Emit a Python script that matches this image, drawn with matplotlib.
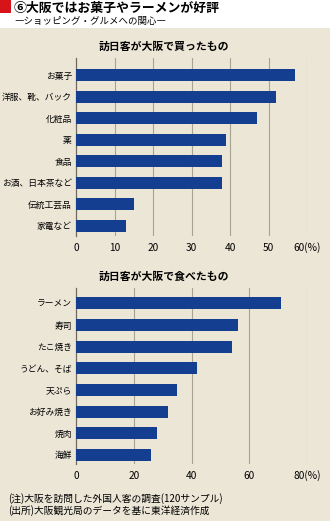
import matplotlib.pyplot as plt
from matplotlib.patches import Rectangle

plt.rcParams['font.family'] = ['Noto Sans CJK JP', 'DejaVu Sans']

# 訪日客が大阪で買ったもの
buy_items = ['お菓子', '洋服、靴、バック', '化粧品', '薬', '食品', 'お酒、日本茶など', '伝統工芸品', '家電など']
buy_vals = [57, 52, 47, 39, 38, 38, 15, 13]
buy_ticks = [0, 10, 20, 30, 40, 50, 60]

# 訪日客が大阪で食べたもの
eat_items = ['ラーメン', '寿司', 'たこ焼き', 'うどん、そば', '天ぷら', 'お好み焼き', '焼肉', '海鮮']
eat_vals = [71, 56, 54, 42, 35, 32, 28, 26]
eat_ticks = [0, 20, 40, 60, 80]

bar_col = '#143f90'
bg_col = '#ece6d7'
grid_col = '#a8a294'

W, H = 330, 521
fig = plt.figure(figsize=(3.3, 5.21), dpi=100)
fig.patch.set_facecolor('white')

# beige panel + red mark
fig.patches.append(Rectangle((0, 0), 1, 1 - 28 / H, transform=fig.transFigure,
                             facecolor=bg_col, edgecolor='none', zorder=-5))
fig.patches.append(Rectangle((0, 1 - 13 / H), 11 / W, 13 / H, transform=fig.transFigure,
                             facecolor='#d7141a', edgecolor='none', zorder=-5))

fig.text(14 / W, 1 - 8 / H, '⑥大阪ではお菓子やラーメンが好評', fontsize=9.3,
         fontweight='bold', va='center', ha='left')
fig.text(14 / W, 1 - 21 / H, '―ショッピング・グルメへの関心―', fontsize=6.8,
         va='center', ha='left')


def draw(ax, items, vals, ticks, xmax, top_pad, bot_pad, title, title_y):
    y = list(range(len(items)))
    ax.barh(y, vals, height=0.56, color=bar_col, zorder=3)
    ax.set_xlim(0, xmax)
    ax.set_ylim(len(items) - 1 + bot_pad, -top_pad)
    ax.set_facecolor('none')
    for s in ['top', 'right', 'bottom']:
        ax.spines[s].set_visible(False)
    ax.spines['left'].set_color('#6f6a60')
    ax.spines['left'].set_linewidth(0.9)
    ax.set_xticks(ticks)
    ax.set_xticklabels([''] * len(ticks))
    # x labels on a common baseline, last one carries the unit
    for t in ticks:
        if t == ticks[-1]:
            txt, dx, ha = f'{t}(%)', -10, 'left'
        else:
            txt, dx, ha = str(t), 0, 'center'
        ax.annotate(txt, xy=(t, 0), xycoords=ax.get_xaxis_transform(),
                    xytext=(dx, -11), textcoords='offset points', fontsize=7.3,
                    ha=ha, va='baseline')
    for t in ticks[1:]:
        ax.axvline(t, color=grid_col, linewidth=0.8, zorder=1)
    ax.tick_params(axis='x', length=0)
    ax.tick_params(axis='y', length=0, pad=3)
    ax.set_yticks(y)
    ax.set_yticklabels(items, fontsize=6.3)
    fig.text(164 / W, 1 - title_y / H, title, fontsize=7.8, fontweight='bold',
             ha='center', va='center')


ax1 = fig.add_axes([76 / W, 1 - 236 / H, 231 / W, 178 / H])
draw(ax1, buy_items, buy_vals, buy_ticks, 60, 0.79, 0.48, '訪日客が大阪で買ったもの', 47)

ax2 = fig.add_axes([76 / W, 1 - 464 / H, 231 / W, 176 / H])
draw(ax2, eat_items, eat_vals, eat_ticks, 80, 0.71, 0.42, '訪日客が大阪で食べたもの', 277)

fig.text(8 / W, 1 - 499 / H, '(注)大阪を訪問した外国人客の調査(120サンプル)', fontsize=7,
         va='center', ha='left')
fig.text(8 / W, 1 - 511 / H, '(出所)大阪観光局のデータを基に東洋経済作成', fontsize=7,
         va='center', ha='left')

fig.savefig('out.png', dpi=100)
